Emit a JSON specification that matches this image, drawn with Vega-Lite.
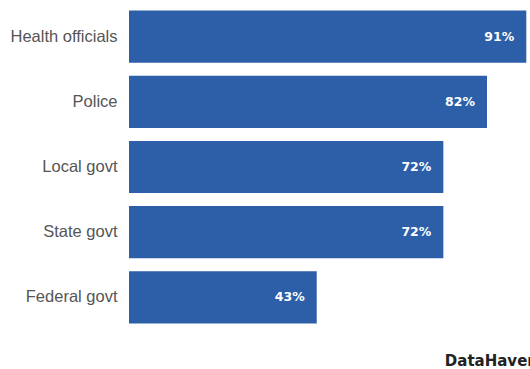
{
  "$schema": "https://vega.github.io/schema/vega-lite/v6.json",
  "width": 401,
  "height": 326,
  "autosize": {"type": "none"},
  "padding": {"left": 129, "top": 4, "right": 0, "bottom": 39},
  "background": "white",
  "title": {
    "text": "DataHaven",
    "orient": "bottom",
    "anchor": "end",
    "font": "DejaVu Sans",
    "fontSize": 15,
    "fontWeight": "bold",
    "color": "#222222",
    "offset": 24,
    "dx": 8
  },
  "data": {
    "values": [
      {"group": "Health officials", "pct": 0.91},
      {"group": "Police", "pct": 0.82},
      {"group": "Local govt", "pct": 0.72},
      {"group": "State govt", "pct": 0.72},
      {"group": "Federal govt", "pct": 0.43}
    ]
  },
  "encoding": {
    "y": {
      "field": "group",
      "type": "nominal",
      "sort": null,
      "scale": {"paddingInner": 0.2, "paddingOuter": 0.1},
      "axis": {
        "title": null,
        "domain": false,
        "ticks": false,
        "labelPadding": 12,
        "labelFont": "Liberation Sans",
        "labelFontSize": 16.5,
        "labelColor": "#555555"
      }
    },
    "x": {
      "field": "pct",
      "type": "quantitative",
      "scale": {"domain": [0, 0.9185], "nice": false},
      "axis": null
    }
  },
  "layer": [
    {"mark": {"type": "bar", "color": "#2d5ea8", "clip": true}},
    {
      "mark": {
        "type": "text",
        "align": "right",
        "baseline": "middle",
        "dx": -12,
        "color": "white",
        "font": "DejaVu Sans",
        "fontWeight": "bold",
        "fontSize": 12.5
      },
      "encoding": {"text": {"field": "pct", "type": "quantitative", "format": ".0%"}}
    }
  ],
  "config": {"view": {"stroke": null}}
}
